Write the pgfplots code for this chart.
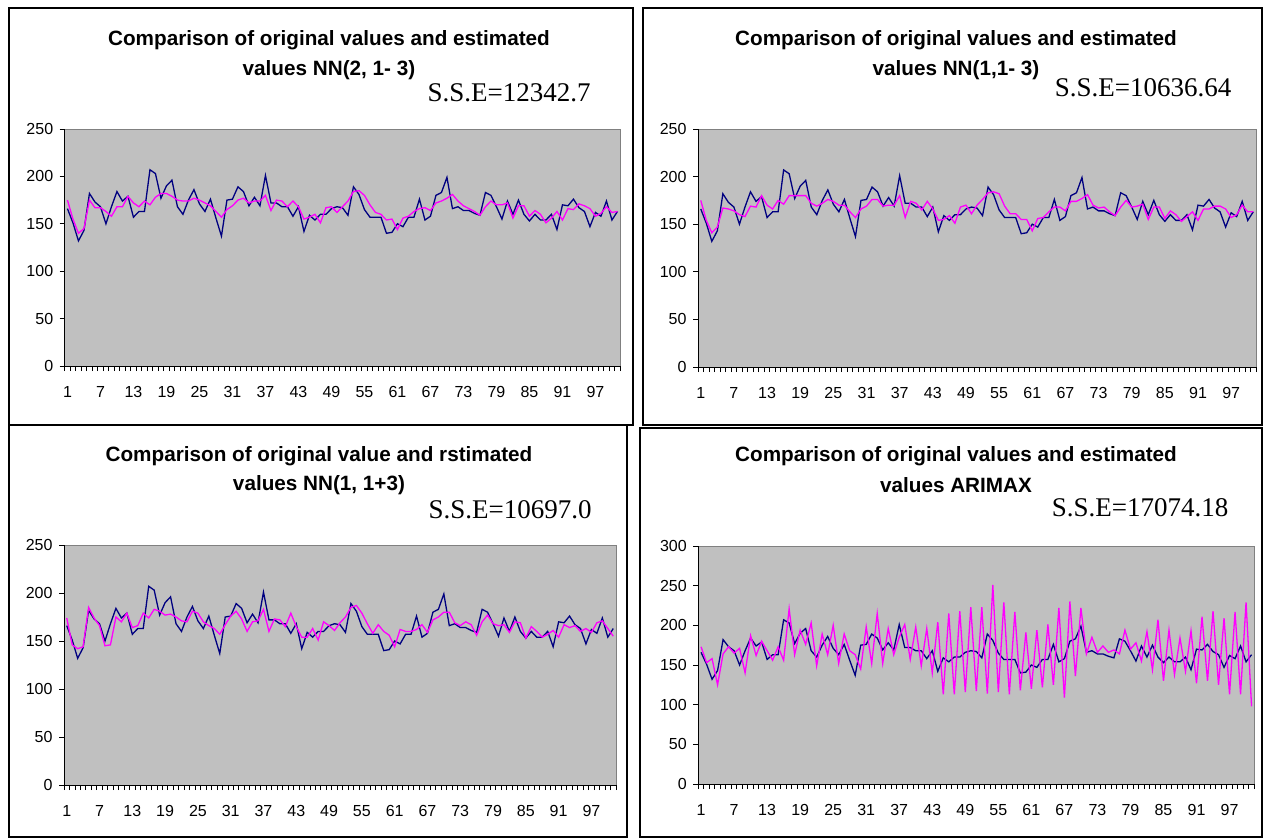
\documentclass[border=0pt]{standalone}
\usepackage{fontspec}
\setmainfont{Liberation Sans}
\newfontfamily\sseserif{Liberation Serif}
\usepackage{pgfplots}
\usepackage{pgfplotstable}
\pgfplotsset{compat=1.18}

\definecolor{plotgray}{HTML}{C0C0C0}
\definecolor{bordergray}{HTML}{808080}
\definecolor{orig}{HTML}{000080}
\definecolor{est}{HTML}{FF00FF}

% i, original series, estimates of the four models
\pgfplotstableread{
i orig nnA nnB nnC arimax
1 166 175 175 174 173
2 151 155 154 146 153
3 132 140 141 142 158
4 143 145 147 144 125
5 182 175 167 185 164
6 173 167 166 174 173
7 168 167 164 166 165
8 150 163 160 145 171
9 168 158 158 146 140
10 184 168 169 175 187
11 174 168 168 170 162
12 179 179 180 179 180
13 157 172 170 164 168
14 163 168 166 166 156
15 163 174 175 179 173
16 207 170 171 174 156
17 203 178 180 183 221
18 177 182 180 181 163
19 190 182 180 177 194
20 196 179 180 178 176
21 168 175 172 175 203
22 160 174 169 171 149
23 175 174 172 170 189
24 186 177 176 181 163
25 171 175 174 179 200
26 163 172 170 170 152
27 176 169 170 166 189
28 156 163 163 163 168
29 137 157 157 157 163
30 175 165 166 167 145
31 176 169 169 176 198
32 189 175 176 181 152
33 184 177 176 173 215
34 169 172 169 160 152
35 178 174 170 170 196
36 169 174 170 171 163
37 201 180 180 183 185
38 172 164 157 160 201
39 172 175 174 173 157
40 168 174 172 172 198
41 168 168 165 165 149
42 158 174 174 179 196
43 168 168 166 165 140
44 142 155 154 154 204
45 159 157 155 154 113
46 154 160 159 163 215
47 160 151 151 151 113
48 160 167 168 170 218
49 166 168 170 166 116
50 168 162 161 161 223
51 167 168 170 169 117
52 159 174 176 175 223
53 189 184 183 185 114
54 181 185 184 187 251
55 165 180 182 179 116
56 157 170 169 168 229
57 157 162 161 158 113
58 157 160 161 167 217
59 140 154 155 160 118
60 141 155 155 156 191
61 150 144 143 144 120
62 147 156 156 162 194
63 157 158 157 160 122
64 157 163 163 160 201
65 176 166 168 162 125
66 154 167 168 167 222
67 158 164 164 159 109
68 180 172 174 172 230
69 183 174 174 175 136
70 199 177 177 180 222
71 166 181 181 180 164
72 168 174 170 169 185
73 164 169 167 166 166
74 164 166 168 170 174
75 161 163 163 167 166
76 159 159 159 156 169
77 183 168 168 170 164
78 180 174 175 177 194
79 168 170 168 168 170
80 155 170 169 166 178
81 174 172 171 167 155
82 160 156 155 159 192
83 175 169 168 170 144
84 160 169 168 169 207
85 153 158 156 153 130
86 160 164 164 165 194
87 154 160 160 160 138
88 154 151 153 154 184
89 160 156 158 157 142
90 144 163 163 161 193
91 170 154 154 154 127
92 169 166 166 167 211
93 176 165 166 164 130
94 167 171 169 166 218
95 163 169 169 160 125
96 147 166 166 163 209
97 162 158 157 159 113
98 158 161 160 169 217
99 174 168 170 171 113
100 154 162 163 163 229
101 163 163 163 155 98
}\data

\pgfplotsset{
  panel/.style={
    scale only axis,
    anchor=north west,
    xmin=0.5, xmax=101.5,
    ymin=0,
    axis background/.style={fill=plotgray, draw=bordergray, line width=1pt},
    axis x line*=bottom,
    axis y line*=left,
    axis line style={black, line width=1pt},
    tick align=outside,
    major tick length=5pt,
    tick style={black, line width=0.8pt},
    xtick={0.5,1.5,...,101.5},
    xticklabels={},
    extra x ticks={1,7,...,97},
    extra x tick labels={1,7,13,19,25,31,37,43,49,55,61,67,73,79,85,91,97},
    extra x tick style={major tick length=0pt},
    ytick distance=50,
    tick label style={font=\fontsize{16}{16}\selectfont},
    /pgf/number format/assume math mode=true,
    x tick label style={yshift=-17pt},
    y tick label style={xshift=-3pt},
  },
  origline/.style={orig, line width=1.3pt, mark=none},
  estline/.style={est, line width=1.3pt, mark=none},
}

\newcommand{\ttl}{\bfseries\fontsize{20.7}{21}\selectfont}
\newcommand{\sse}{\sseserif\fontsize{27}{27}\selectfont}

\begin{document}
\begin{tikzpicture}
\useasboundingbox (0,0) rectangle (1266pt,-838pt);

% panel frames
\draw[line width=1.2pt] (9pt,-8pt) rectangle (633pt,-425pt);
\draw[line width=1.2pt] (643pt,-8pt) rectangle (1262pt,-425pt);
\draw[line width=1.2pt] (9pt,-425pt) rectangle (627pt,-837pt);
\draw[line width=1.2pt] (640pt,-428pt) rectangle (1262pt,-837pt);

% top left
\begin{axis}[panel, at={(64.7pt,-129pt)}, width=555.5pt, height=237pt, ymax=250]
\addplot[origline] table[x=i, y=orig] {\data};
\addplot[estline] table[x=i, y=nnA] {\data};
\end{axis}
\node[font=\ttl] at (329pt,-40pt) {Comparison of original values and estimated};
\node[font=\ttl] at (329pt,-70pt) {values NN(2, 1- 3)};
\node[font=\sse] at (509pt,-93pt) {S.S.E=12342.7};

% top right
\begin{axis}[panel, at={(698pt,-129pt)}, width=558pt, height=238pt, ymax=250]
\addplot[origline] table[x=i, y=orig] {\data};
\addplot[estline] table[x=i, y=nnB] {\data};
\end{axis}
\node[font=\ttl] at (956pt,-40pt) {Comparison of original values and estimated};
\node[font=\ttl] at (956pt,-70pt) {values NN(1,1- 3)};
\node[font=\sse] at (1143pt,-88pt) {S.S.E=10636.64};

% bottom left
\begin{axis}[panel, at={(64pt,-545pt)}, width=552pt, height=240pt, ymax=250]
\addplot[origline] table[x=i, y=orig] {\data};
\addplot[estline] table[x=i, y=nnC] {\data};
\end{axis}
\node[font=\ttl] at (319pt,-456pt) {Comparison of original value and rstimated};
\node[font=\ttl] at (319pt,-485pt) {values NN(1, 1+3)};
\node[font=\sse] at (510pt,-510pt) {S.S.E=10697.0};

% bottom right
\begin{axis}[panel, at={(698.3pt,-546pt)}, width=556pt, height=238pt, ymax=300]
\addplot[origline] table[x=i, y=orig] {\data};
\addplot[estline] table[x=i, y=arimax] {\data};
\end{axis}
\node[font=\ttl] at (956pt,-456pt) {Comparison of original values and estimated};
\node[font=\ttl] at (956pt,-485pt) {values ARIMAX};
\node[font=\sse] at (1140pt,-508pt) {S.S.E=17074.18};
\end{tikzpicture}
\end{document}
